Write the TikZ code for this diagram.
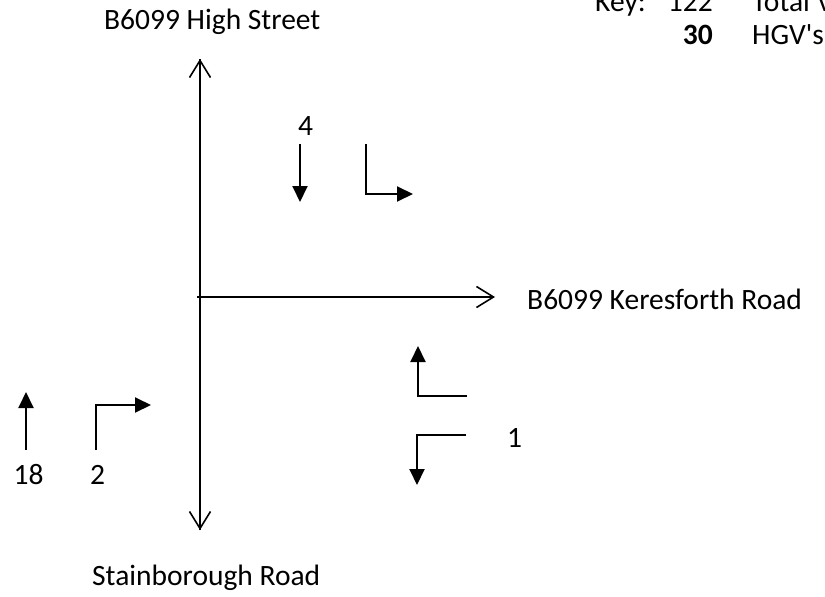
\documentclass[tikz,border=0pt]{standalone}
\usepackage{fontspec}
\setmainfont{Carlito}
\newfontfamily\cfont{Carlito}
\usetikzlibrary{arrows.meta}
\begin{document}
\begin{tikzpicture}[x=1pt,y=-1pt,
  lbl/.style={inner sep=0pt,font=\cfont\fontsize{29.5}{34}\selectfont,anchor=base},
  road/.style={line width=1.6pt,-{Straight Barb[length=17pt,width=21pt,line width=1.6pt]}},
  turn/.style={line width=2pt,-{Triangle[length=16pt,width=15pt]}}]
\useasboundingbox (0,0) rectangle (825,597);
\clip (0,0) rectangle (825,597);
% roads
\coordinate (vtop) at (200,59);
\coordinate (vbot) at (200,530);
\coordinate (hl) at (197,297);
\coordinate (hr) at (495,297);
\draw[road] (vbot) -- (vtop);
\draw[road] (vtop) -- (vbot);
\draw[road] (hl) -- (hr);
% labels
\node[lbl,anchor=base west] (high) at (104,29) {B6099 High Street};
\node[lbl,anchor=base west] (stain) at (92,585) {Stainborough Road};
\node[lbl,anchor=base west] (keres) at (527,309) {B6099 Keresforth Road};
% key
\node[lbl,anchor=base west] (key) at (595,12) {Key:};
\node[lbl,anchor=base east] (k122) at (713,12) {122};
\node[lbl,anchor=base west] (ktot) at (752,12) {Total Vehicles};
\node[lbl,anchor=base east,font=\cfont\fontsize{29.5}{34}\selectfont\bfseries] (k30) at (713,45) {30};
\node[lbl,anchor=base west] (khgv) at (752,45) {HGV's};
% counts
\node[lbl] (n4) at (305.5,135) {4};
\node[lbl] (n18) at (28.5,484) {18};
\node[lbl] (n2) at (97.5,484) {2};
\node[lbl] (n1) at (514.5,447) {1};
% turning arrows
\coordinate (a1s) at (300,144);
\coordinate (a1e) at (300,202);
\draw[turn] (a1s) -- (a1e);
\coordinate (a2s) at (366,144);
\coordinate (a2c) at (366,194);
\coordinate (a2e) at (413,194);
\draw[turn] (a2s) -- (a2c) -- (a2e);
\coordinate (a3s) at (26,450);
\coordinate (a3e) at (26,392);
\draw[turn] (a3s) -- (a3e);
\coordinate (a4s) at (96,450);
\coordinate (a4c) at (96,405);
\coordinate (a4e) at (151,405);
\draw[turn] (a4s) -- (a4c) -- (a4e);
\coordinate (a5s) at (467,396);
\coordinate (a5c) at (418,396);
\coordinate (a5e) at (418,346);
\draw[turn] (a5s) -- (a5c) -- (a5e);
\coordinate (a6s) at (466,435);
\coordinate (a6c) at (417,435);
\coordinate (a6e) at (417,485);
\draw[turn] (a6s) -- (a6c) -- (a6e);
\end{tikzpicture}
\end{document}
